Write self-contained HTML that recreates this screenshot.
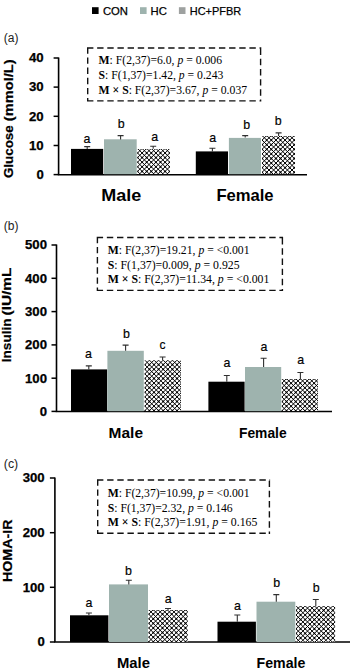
<!DOCTYPE html>
<html lang="en"><head><meta charset="utf-8"><title>Figure</title>
<style>html,body{margin:0;padding:0;background:#fff}svg{display:block}</style></head><body>
<svg width="350" height="669" viewBox="0 0 350 669">
<rect width="350" height="669" fill="#fff"/>
<rect x="92" y="7.2" width="6.6" height="6.8" fill="#000"/>
<text x="102.9" y="14.6" font-size="11.6" font-weight="normal" text-anchor="start" font-family='"Liberation Sans", sans-serif' textLength="25.0" lengthAdjust="spacingAndGlyphs" stroke="#000" stroke-width="0.25">CON</text>
<rect x="140" y="7.2" width="6.6" height="6.8" fill="#9eb3ae"/>
<text x="150.5" y="14.6" font-size="11.6" font-weight="normal" text-anchor="start" font-family='"Liberation Sans", sans-serif' textLength="16.3" lengthAdjust="spacingAndGlyphs" stroke="#000" stroke-width="0.25">HC</text>
<rect x="178.9" y="7.2" width="6.6" height="6.8" fill="#9ea1a0"/>
<text x="189.8" y="14.6" font-size="11.6" font-weight="normal" text-anchor="start" font-family='"Liberation Sans", sans-serif' textLength="51.4" lengthAdjust="spacingAndGlyphs" stroke="#000" stroke-width="0.25">HC+PFBR</text>
<text x="3.8" y="41.9" font-size="12" font-weight="normal" text-anchor="start" font-family='"Liberation Sans", sans-serif' fill="#222">(a)</text>
<path d="M58.6 57.4V174.7H307" stroke="#000" stroke-width="1.6" fill="none"/>
<path d="M53.6 58H58.6" stroke="#000" stroke-width="1.5" fill="none"/>
<text x="43.7" y="62.3" font-size="12.2" font-weight="bold" text-anchor="end" font-family='"Liberation Sans", sans-serif' textLength="14.7" lengthAdjust="spacingAndGlyphs" stroke="#000" stroke-width="0.25">40</text>
<path d="M53.6 87.1H58.6" stroke="#000" stroke-width="1.5" fill="none"/>
<text x="43.7" y="91.4" font-size="12.2" font-weight="bold" text-anchor="end" font-family='"Liberation Sans", sans-serif' textLength="14.7" lengthAdjust="spacingAndGlyphs" stroke="#000" stroke-width="0.25">30</text>
<path d="M53.6 116.3H58.6" stroke="#000" stroke-width="1.5" fill="none"/>
<text x="43.7" y="120.6" font-size="12.2" font-weight="bold" text-anchor="end" font-family='"Liberation Sans", sans-serif' textLength="14.7" lengthAdjust="spacingAndGlyphs" stroke="#000" stroke-width="0.25">20</text>
<path d="M53.6 145.5H58.6" stroke="#000" stroke-width="1.5" fill="none"/>
<text x="43.7" y="149.8" font-size="12.2" font-weight="bold" text-anchor="end" font-family='"Liberation Sans", sans-serif' textLength="14.7" lengthAdjust="spacingAndGlyphs" stroke="#000" stroke-width="0.25">10</text>
<path d="M53.6 174.6H58.6" stroke="#000" stroke-width="1.5" fill="none"/>
<text x="43.7" y="178.9" font-size="12.2" font-weight="bold" text-anchor="end" font-family='"Liberation Sans", sans-serif' textLength="7.3" lengthAdjust="spacingAndGlyphs" stroke="#000" stroke-width="0.25">0</text>
<text transform="translate(13.1,178.1) rotate(-90)" font-size="12.8" font-weight="bold" font-family='"Liberation Sans", sans-serif' textLength="52.8" lengthAdjust="spacingAndGlyphs" stroke="#000" stroke-width="0.2">Glucose</text>
<text transform="translate(13.1,121.2) rotate(-90)" font-size="12.8" font-weight="bold" font-family='"Liberation Sans", sans-serif' textLength="61.8" lengthAdjust="spacingAndGlyphs" stroke="#000" stroke-width="0.2">(mmol/L)</text>
<path d="M87.0 48H261.3M87.7 47.3V101.60000000000001M87.0 100.9H261.3M260.6 48.7V101.60000000000001" fill="none" stroke="#111" stroke-width="1.4" stroke-dasharray="6.4 3.75"/>
<text x="98.6" y="64.0" font-size="12.3" font-family='"Liberation Serif", serif' textLength="123.4" lengthAdjust="spacingAndGlyphs" fill="#000"><tspan font-weight="bold">M</tspan>: F(2,37)=6.0, <tspan font-style="italic">p</tspan> = 0.006</text>
<text x="98.6" y="78.9" font-size="12.3" font-family='"Liberation Serif", serif' textLength="124.8" lengthAdjust="spacingAndGlyphs" fill="#000"><tspan font-weight="bold">S</tspan>: F(1,37)=1.42, <tspan font-style="italic">p</tspan> = 0.243</text>
<text x="98.6" y="93.9" font-size="12.3" font-family='"Liberation Serif", serif' textLength="148.5" lengthAdjust="spacingAndGlyphs" fill="#000"><tspan font-weight="bold">M × S</tspan>: F(2,37)=3.67, <tspan font-style="italic">p</tspan> = 0.037</text>
<rect x="71" y="148.9" width="32.2" height="25.3" fill="#000"/>
<path d="M87.2 149V146.65M84.2 146.65H90.2" stroke="#303030" stroke-width="1.1" fill="none"/>
<text x="83.55" y="142.9" font-size="13.6" font-weight="normal" text-anchor="start" font-family='"Liberation Sans", sans-serif' textLength="6.9" lengthAdjust="spacingAndGlyphs" stroke="#000" stroke-width="0.2">a</text>
<rect x="104" y="139.3" width="32.7" height="34.9" fill="#9eb3ae"/>
<path d="M120.6 139.5V135.65M117.6 135.65H123.6" stroke="#303030" stroke-width="1.1" fill="none"/>
<text x="117.75" y="127.7" font-size="13.6" font-weight="normal" text-anchor="start" font-family='"Liberation Sans", sans-serif' textLength="6.9" lengthAdjust="spacingAndGlyphs" stroke="#000" stroke-width="0.2">b</text>
<clipPath id="c1"><rect x="137.5" y="148.9" width="32.3" height="25.3"/></clipPath><g clip-path="url(#c1)"><rect x="137.5" y="148.9" width="32.3" height="25.3" fill="#fff"/><defs><path id="h1" d="M91.50 143.80l41.40 41.40M96.10 143.80l41.40 41.40M100.70 143.80l41.40 41.40M105.30 143.80l41.40 41.40M109.90 143.80l41.40 41.40M114.50 143.80l41.40 41.40M119.10 143.80l41.40 41.40M123.70 143.80l41.40 41.40M128.30 143.80l41.40 41.40M132.90 143.80l41.40 41.40M137.50 143.80l41.40 41.40M142.10 143.80l41.40 41.40M146.70 143.80l41.40 41.40M151.30 143.80l41.40 41.40M155.90 143.80l41.40 41.40M160.50 143.80l41.40 41.40M165.10 143.80l41.40 41.40M169.70 143.80l41.40 41.40M174.30 143.80l41.40 41.40M178.90 143.80l41.40 41.40M183.50 143.80l41.40 41.40M128.30 143.80l-41.40 41.40M132.90 143.80l-41.40 41.40M137.50 143.80l-41.40 41.40M142.10 143.80l-41.40 41.40M146.70 143.80l-41.40 41.40M151.30 143.80l-41.40 41.40M155.90 143.80l-41.40 41.40M160.50 143.80l-41.40 41.40M165.10 143.80l-41.40 41.40M169.70 143.80l-41.40 41.40M174.30 143.80l-41.40 41.40M178.90 143.80l-41.40 41.40M183.50 143.80l-41.40 41.40M188.10 143.80l-41.40 41.40M192.70 143.80l-41.40 41.40M197.30 143.80l-41.40 41.40M201.90 143.80l-41.40 41.40M206.50 143.80l-41.40 41.40M211.10 143.80l-41.40 41.40M215.70 143.80l-41.40 41.40"/></defs><g fill="none" stroke="#000"><use href="#h1" stroke-width="1.0"/><use href="#h1" stroke-width="1.6" stroke-dasharray="1.6 4.9054" stroke-dashoffset="0.8"/></g></g>
<path d="M153.2 148.8V146.25M150.2 146.25H156.2" stroke="#303030" stroke-width="1.1" fill="none"/>
<text x="151.35" y="140.6" font-size="13.6" font-weight="normal" text-anchor="start" font-family='"Liberation Sans", sans-serif' textLength="6.9" lengthAdjust="spacingAndGlyphs" stroke="#000" stroke-width="0.2">a</text>
<rect x="195.8" y="151.4" width="32.2" height="22.8" fill="#000"/>
<path d="M212.4 151.4V148.25M209.4 148.25H215.4" stroke="#303030" stroke-width="1.1" fill="none"/>
<text x="209.25" y="141.5" font-size="13.6" font-weight="normal" text-anchor="start" font-family='"Liberation Sans", sans-serif' textLength="6.9" lengthAdjust="spacingAndGlyphs" stroke="#000" stroke-width="0.2">a</text>
<rect x="228.9" y="137.9" width="32.1" height="36.3" fill="#9eb3ae"/>
<path d="M245.2 137.6V135.65M242.2 135.65H248.2" stroke="#303030" stroke-width="1.1" fill="none"/>
<text x="243.15" y="128.7" font-size="13.6" font-weight="normal" text-anchor="start" font-family='"Liberation Sans", sans-serif' textLength="6.9" lengthAdjust="spacingAndGlyphs" stroke="#000" stroke-width="0.2">b</text>
<clipPath id="c2"><rect x="262.1" y="136" width="32.9" height="38.2"/></clipPath><g clip-path="url(#c2)"><rect x="262.1" y="136" width="32.9" height="38.2" fill="#fff"/><defs><path id="h2" d="M202.30 130.90l55.20 55.20M206.90 130.90l55.20 55.20M211.50 130.90l55.20 55.20M216.10 130.90l55.20 55.20M220.70 130.90l55.20 55.20M225.30 130.90l55.20 55.20M229.90 130.90l55.20 55.20M234.50 130.90l55.20 55.20M239.10 130.90l55.20 55.20M243.70 130.90l55.20 55.20M248.30 130.90l55.20 55.20M252.90 130.90l55.20 55.20M257.50 130.90l55.20 55.20M262.10 130.90l55.20 55.20M266.70 130.90l55.20 55.20M271.30 130.90l55.20 55.20M275.90 130.90l55.20 55.20M280.50 130.90l55.20 55.20M285.10 130.90l55.20 55.20M289.70 130.90l55.20 55.20M294.30 130.90l55.20 55.20M298.90 130.90l55.20 55.20M303.50 130.90l55.20 55.20M308.10 130.90l55.20 55.20M252.90 130.90l-55.20 55.20M257.50 130.90l-55.20 55.20M262.10 130.90l-55.20 55.20M266.70 130.90l-55.20 55.20M271.30 130.90l-55.20 55.20M275.90 130.90l-55.20 55.20M280.50 130.90l-55.20 55.20M285.10 130.90l-55.20 55.20M289.70 130.90l-55.20 55.20M294.30 130.90l-55.20 55.20M298.90 130.90l-55.20 55.20M303.50 130.90l-55.20 55.20M308.10 130.90l-55.20 55.20M312.70 130.90l-55.20 55.20M317.30 130.90l-55.20 55.20M321.90 130.90l-55.20 55.20M326.50 130.90l-55.20 55.20M331.10 130.90l-55.20 55.20M335.70 130.90l-55.20 55.20M340.30 130.90l-55.20 55.20M344.90 130.90l-55.20 55.20M349.50 130.90l-55.20 55.20M354.10 130.90l-55.20 55.20"/></defs><g fill="none" stroke="#000"><use href="#h2" stroke-width="1.0"/><use href="#h2" stroke-width="1.6" stroke-dasharray="1.6 4.9054" stroke-dashoffset="0.8"/></g></g>
<path d="M278.6 136V132.85M275.6 132.85H281.6" stroke="#303030" stroke-width="1.1" fill="none"/>
<text x="274.65" y="125.2" font-size="13.6" font-weight="normal" text-anchor="start" font-family='"Liberation Sans", sans-serif' textLength="6.9" lengthAdjust="spacingAndGlyphs" stroke="#000" stroke-width="0.2">b</text>
<text x="121.2" y="200.6" font-size="17" font-weight="bold" text-anchor="middle" font-family='"Liberation Sans", sans-serif' textLength="40" lengthAdjust="spacingAndGlyphs">Male</text>
<text x="245" y="201.3" font-size="17" font-weight="bold" text-anchor="middle" font-family='"Liberation Sans", sans-serif' textLength="57.2" lengthAdjust="spacingAndGlyphs">Female</text>
<text x="3.8" y="230.0" font-size="12" font-weight="normal" text-anchor="start" font-family='"Liberation Sans", sans-serif' fill="#222">(b)</text>
<path d="M56.5 244.4V411.5H332" stroke="#000" stroke-width="1.6" fill="none"/>
<path d="M51.5 245H56.5" stroke="#000" stroke-width="1.5" fill="none"/>
<text x="47" y="249.3" font-size="12.2" font-weight="bold" text-anchor="end" font-family='"Liberation Sans", sans-serif' textLength="22.0" lengthAdjust="spacingAndGlyphs" stroke="#000" stroke-width="0.25">500</text>
<path d="M51.5 278.3H56.5" stroke="#000" stroke-width="1.5" fill="none"/>
<text x="47" y="282.6" font-size="12.2" font-weight="bold" text-anchor="end" font-family='"Liberation Sans", sans-serif' textLength="22.0" lengthAdjust="spacingAndGlyphs" stroke="#000" stroke-width="0.25">400</text>
<path d="M51.5 311.6H56.5" stroke="#000" stroke-width="1.5" fill="none"/>
<text x="47" y="315.9" font-size="12.2" font-weight="bold" text-anchor="end" font-family='"Liberation Sans", sans-serif' textLength="22.0" lengthAdjust="spacingAndGlyphs" stroke="#000" stroke-width="0.25">300</text>
<path d="M51.5 344.9H56.5" stroke="#000" stroke-width="1.5" fill="none"/>
<text x="47" y="349.2" font-size="12.2" font-weight="bold" text-anchor="end" font-family='"Liberation Sans", sans-serif' textLength="22.0" lengthAdjust="spacingAndGlyphs" stroke="#000" stroke-width="0.25">200</text>
<path d="M51.5 378.2H56.5" stroke="#000" stroke-width="1.5" fill="none"/>
<text x="47" y="382.5" font-size="12.2" font-weight="bold" text-anchor="end" font-family='"Liberation Sans", sans-serif' textLength="22.0" lengthAdjust="spacingAndGlyphs" stroke="#000" stroke-width="0.25">100</text>
<path d="M51.5 411.4H56.5" stroke="#000" stroke-width="1.5" fill="none"/>
<text x="47" y="415.7" font-size="12.2" font-weight="bold" text-anchor="end" font-family='"Liberation Sans", sans-serif' textLength="7.3" lengthAdjust="spacingAndGlyphs" stroke="#000" stroke-width="0.25">0</text>
<text transform="translate(11.2,362.2) rotate(-90)" font-size="12.8" font-weight="bold" font-family='"Liberation Sans", sans-serif' textLength="43.7" lengthAdjust="spacingAndGlyphs" stroke="#000" stroke-width="0.2">Insulin</text>
<text transform="translate(11.2,315.5) rotate(-90)" font-size="12.8" font-weight="bold" font-family='"Liberation Sans", sans-serif' textLength="47.9" lengthAdjust="spacingAndGlyphs" stroke="#000" stroke-width="0.2">(IU/mL</text>
<path d="M96.7 237.5H283.09999999999997M97.4 236.8V291.09999999999997M96.7 290.4H283.09999999999997M282.4 238.2V291.09999999999997" fill="none" stroke="#111" stroke-width="1.4" stroke-dasharray="6.4 3.75"/>
<text x="107.8" y="254.4" font-size="12.3" font-family='"Liberation Serif", serif' textLength="141.7" lengthAdjust="spacingAndGlyphs" fill="#000"><tspan font-weight="bold">M</tspan>: F(2,37)=19.21, <tspan font-style="italic">p</tspan> = &lt;0.001</text>
<text x="107.8" y="268.8" font-size="12.3" font-family='"Liberation Serif", serif' textLength="131.8" lengthAdjust="spacingAndGlyphs" fill="#000"><tspan font-weight="bold">S</tspan>: F(1,37)=0.009, <tspan font-style="italic">p</tspan> = 0.925</text>
<text x="107.8" y="283.0" font-size="12.3" font-family='"Liberation Serif", serif' textLength="161.6" lengthAdjust="spacingAndGlyphs" fill="#000"><tspan font-weight="bold">M × S</tspan>: F(2,37)=11.34, <tspan font-style="italic">p</tspan> = &lt;0.001</text>
<rect x="71" y="369.4" width="36.2" height="41.8" fill="#000"/>
<path d="M88.8 369.4V365.85M85.8 365.85H91.8" stroke="#303030" stroke-width="1.1" fill="none"/>
<text x="85.05" y="358.1" font-size="13.6" font-weight="normal" text-anchor="start" font-family='"Liberation Sans", sans-serif' textLength="6.9" lengthAdjust="spacingAndGlyphs" stroke="#000" stroke-width="0.2">a</text>
<rect x="107.4" y="350.8" width="36.4" height="60.4" fill="#9eb3ae"/>
<path d="M125.6 350.8V345.15M122.6 345.15H128.6" stroke="#303030" stroke-width="1.1" fill="none"/>
<text x="122.95" y="338.1" font-size="13.6" font-weight="normal" text-anchor="start" font-family='"Liberation Sans", sans-serif' textLength="6.9" lengthAdjust="spacingAndGlyphs" stroke="#000" stroke-width="0.2">b</text>
<clipPath id="c3"><rect x="144.8" y="360.6" width="36.2" height="50.6"/></clipPath><g clip-path="url(#c3)"><rect x="144.8" y="360.6" width="36.2" height="50.6" fill="#fff"/><defs><path id="h3" d="M71.20 355.50l69.00 69.00M75.80 355.50l69.00 69.00M80.40 355.50l69.00 69.00M85.00 355.50l69.00 69.00M89.60 355.50l69.00 69.00M94.20 355.50l69.00 69.00M98.80 355.50l69.00 69.00M103.40 355.50l69.00 69.00M108.00 355.50l69.00 69.00M112.60 355.50l69.00 69.00M117.20 355.50l69.00 69.00M121.80 355.50l69.00 69.00M126.40 355.50l69.00 69.00M131.00 355.50l69.00 69.00M135.60 355.50l69.00 69.00M140.20 355.50l69.00 69.00M144.80 355.50l69.00 69.00M149.40 355.50l69.00 69.00M154.00 355.50l69.00 69.00M158.60 355.50l69.00 69.00M163.20 355.50l69.00 69.00M167.80 355.50l69.00 69.00M172.40 355.50l69.00 69.00M177.00 355.50l69.00 69.00M181.60 355.50l69.00 69.00M186.20 355.50l69.00 69.00M190.80 355.50l69.00 69.00M131.00 355.50l-69.00 69.00M135.60 355.50l-69.00 69.00M140.20 355.50l-69.00 69.00M144.80 355.50l-69.00 69.00M149.40 355.50l-69.00 69.00M154.00 355.50l-69.00 69.00M158.60 355.50l-69.00 69.00M163.20 355.50l-69.00 69.00M167.80 355.50l-69.00 69.00M172.40 355.50l-69.00 69.00M177.00 355.50l-69.00 69.00M181.60 355.50l-69.00 69.00M186.20 355.50l-69.00 69.00M190.80 355.50l-69.00 69.00M195.40 355.50l-69.00 69.00M200.00 355.50l-69.00 69.00M204.60 355.50l-69.00 69.00M209.20 355.50l-69.00 69.00M213.80 355.50l-69.00 69.00M218.40 355.50l-69.00 69.00M223.00 355.50l-69.00 69.00M227.60 355.50l-69.00 69.00M232.20 355.50l-69.00 69.00M236.80 355.50l-69.00 69.00M241.40 355.50l-69.00 69.00M246.00 355.50l-69.00 69.00M250.60 355.50l-69.00 69.00"/></defs><g fill="none" stroke="#000"><use href="#h3" stroke-width="1.0"/><use href="#h3" stroke-width="1.6" stroke-dasharray="1.6 4.9054" stroke-dashoffset="0.8"/></g></g>
<path d="M162.6 360.6V357.05M159.6 357.05H165.6" stroke="#303030" stroke-width="1.1" fill="none"/>
<text x="159.4" y="348.6" font-size="13.6" font-weight="normal" text-anchor="start" font-family='"Liberation Sans", sans-serif' textLength="6.0" lengthAdjust="spacingAndGlyphs" stroke="#000" stroke-width="0.2">c</text>
<rect x="208.4" y="381.7" width="36.2" height="29.5" fill="#000"/>
<path d="M226.8 381.7V375.55M223.8 375.55H229.8" stroke="#303030" stroke-width="1.1" fill="none"/>
<text x="223.55" y="366.9" font-size="13.6" font-weight="normal" text-anchor="start" font-family='"Liberation Sans", sans-serif' textLength="6.9" lengthAdjust="spacingAndGlyphs" stroke="#000" stroke-width="0.2">a</text>
<rect x="245" y="367" width="36.2" height="44.2" fill="#9eb3ae"/>
<path d="M263.6 367V358.25M260.6 358.25H266.6" stroke="#303030" stroke-width="1.1" fill="none"/>
<text x="260.55" y="350.6" font-size="13.6" font-weight="normal" text-anchor="start" font-family='"Liberation Sans", sans-serif' textLength="6.9" lengthAdjust="spacingAndGlyphs" stroke="#000" stroke-width="0.2">a</text>
<clipPath id="c4"><rect x="281.9" y="379.1" width="36.1" height="32.1"/></clipPath><g clip-path="url(#c4)"><rect x="281.9" y="379.1" width="36.1" height="32.1" fill="#fff"/><defs><path id="h4" d="M226.70 374.00l50.60 50.60M231.30 374.00l50.60 50.60M235.90 374.00l50.60 50.60M240.50 374.00l50.60 50.60M245.10 374.00l50.60 50.60M249.70 374.00l50.60 50.60M254.30 374.00l50.60 50.60M258.90 374.00l50.60 50.60M263.50 374.00l50.60 50.60M268.10 374.00l50.60 50.60M272.70 374.00l50.60 50.60M277.30 374.00l50.60 50.60M281.90 374.00l50.60 50.60M286.50 374.00l50.60 50.60M291.10 374.00l50.60 50.60M295.70 374.00l50.60 50.60M300.30 374.00l50.60 50.60M304.90 374.00l50.60 50.60M309.50 374.00l50.60 50.60M314.10 374.00l50.60 50.60M318.70 374.00l50.60 50.60M323.30 374.00l50.60 50.60M327.90 374.00l50.60 50.60M268.10 374.00l-50.60 50.60M272.70 374.00l-50.60 50.60M277.30 374.00l-50.60 50.60M281.90 374.00l-50.60 50.60M286.50 374.00l-50.60 50.60M291.10 374.00l-50.60 50.60M295.70 374.00l-50.60 50.60M300.30 374.00l-50.60 50.60M304.90 374.00l-50.60 50.60M309.50 374.00l-50.60 50.60M314.10 374.00l-50.60 50.60M318.70 374.00l-50.60 50.60M323.30 374.00l-50.60 50.60M327.90 374.00l-50.60 50.60M332.50 374.00l-50.60 50.60M337.10 374.00l-50.60 50.60M341.70 374.00l-50.60 50.60M346.30 374.00l-50.60 50.60M350.90 374.00l-50.60 50.60M355.50 374.00l-50.60 50.60M360.10 374.00l-50.60 50.60M364.70 374.00l-50.60 50.60M369.30 374.00l-50.60 50.60"/></defs><g fill="none" stroke="#000"><use href="#h4" stroke-width="1.0"/><use href="#h4" stroke-width="1.6" stroke-dasharray="1.6 4.9054" stroke-dashoffset="0.8"/></g></g>
<path d="M300.4 379.1V372.45M297.4 372.45H303.4" stroke="#303030" stroke-width="1.1" fill="none"/>
<text x="297.15" y="364" font-size="13.6" font-weight="normal" text-anchor="start" font-family='"Liberation Sans", sans-serif' textLength="6.9" lengthAdjust="spacingAndGlyphs" stroke="#000" stroke-width="0.2">a</text>
<text x="125.8" y="437.8" font-size="15" font-weight="bold" text-anchor="middle" font-family='"Liberation Sans", sans-serif' textLength="34.4" lengthAdjust="spacingAndGlyphs">Male</text>
<text x="262.8" y="437.8" font-size="15" font-weight="bold" text-anchor="middle" font-family='"Liberation Sans", sans-serif' textLength="47.6" lengthAdjust="spacingAndGlyphs">Female</text>
<text x="3.8" y="468.2" font-size="12" font-weight="normal" text-anchor="start" font-family='"Liberation Sans", sans-serif' textLength="14.4" lengthAdjust="spacingAndGlyphs" fill="#222">(c)</text>
<path d="M54.9 477.4V642.0H350" stroke="#000" stroke-width="1.6" fill="none"/>
<path d="M49.9 478H54.9" stroke="#000" stroke-width="1.5" fill="none"/>
<text x="44.7" y="482.3" font-size="12.2" font-weight="bold" text-anchor="end" font-family='"Liberation Sans", sans-serif' textLength="22.0" lengthAdjust="spacingAndGlyphs" stroke="#000" stroke-width="0.25">300</text>
<path d="M49.9 532.7H54.9" stroke="#000" stroke-width="1.5" fill="none"/>
<text x="44.7" y="537.0" font-size="12.2" font-weight="bold" text-anchor="end" font-family='"Liberation Sans", sans-serif' textLength="22.0" lengthAdjust="spacingAndGlyphs" stroke="#000" stroke-width="0.25">200</text>
<path d="M49.9 587.3H54.9" stroke="#000" stroke-width="1.5" fill="none"/>
<text x="44.7" y="591.6" font-size="12.2" font-weight="bold" text-anchor="end" font-family='"Liberation Sans", sans-serif' textLength="22.0" lengthAdjust="spacingAndGlyphs" stroke="#000" stroke-width="0.25">100</text>
<path d="M49.9 642H54.9" stroke="#000" stroke-width="1.5" fill="none"/>
<text x="44.7" y="646.3" font-size="12.2" font-weight="bold" text-anchor="end" font-family='"Liberation Sans", sans-serif' textLength="7.3" lengthAdjust="spacingAndGlyphs" stroke="#000" stroke-width="0.25">0</text>
<text transform="translate(11.5,582) rotate(-90)" font-size="13" font-weight="bold" font-family='"Liberation Sans", sans-serif' textLength="62.4" lengthAdjust="spacingAndGlyphs" stroke="#000" stroke-width="0.2">HOMA-IR</text>
<path d="M97.0 480H270.09999999999997M97.7 479.3V533.9000000000001M97.0 533.2H270.09999999999997M269.4 480.7V533.9000000000001" fill="none" stroke="#111" stroke-width="1.4" stroke-dasharray="6.4 3.75"/>
<text x="107.7" y="496.8" font-size="12.3" font-family='"Liberation Serif", serif' textLength="141.8" lengthAdjust="spacingAndGlyphs" fill="#000"><tspan font-weight="bold">M</tspan>: F(2,37)=10.99, <tspan font-style="italic">p</tspan> = &lt;0.001</text>
<text x="107.7" y="511.6" font-size="12.3" font-family='"Liberation Serif", serif' textLength="125.0" lengthAdjust="spacingAndGlyphs" fill="#000"><tspan font-weight="bold">S</tspan>: F(1,37)=2.32, <tspan font-style="italic">p</tspan> = 0.146</text>
<text x="107.7" y="526.1" font-size="12.3" font-family='"Liberation Serif", serif' textLength="149.7" lengthAdjust="spacingAndGlyphs" fill="#000"><tspan font-weight="bold">M × S</tspan>: F(2,37)=1.91, <tspan font-style="italic">p</tspan> = 0.165</text>
<rect x="70" y="615.3" width="38.4" height="26.7" fill="#000"/>
<path d="M88.9 615.3V612.95M85.9 612.95H91.9" stroke="#303030" stroke-width="1.1" fill="none"/>
<text x="85.55" y="606.8" font-size="13.6" font-weight="normal" text-anchor="start" font-family='"Liberation Sans", sans-serif' textLength="6.9" lengthAdjust="spacingAndGlyphs" stroke="#000" stroke-width="0.2">a</text>
<rect x="109" y="584.4" width="39" height="57.6" fill="#9eb3ae"/>
<path d="M128.8 584.4V580.25M125.80000000000001 580.25H131.8" stroke="#303030" stroke-width="1.1" fill="none"/>
<text x="125.05" y="574.8" font-size="13.6" font-weight="normal" text-anchor="start" font-family='"Liberation Sans", sans-serif' textLength="6.9" lengthAdjust="spacingAndGlyphs" stroke="#000" stroke-width="0.2">b</text>
<clipPath id="c5"><rect x="148.7" y="610.1" width="39.0" height="31.9"/></clipPath><g clip-path="url(#c5)"><rect x="148.7" y="610.1" width="39.0" height="31.9" fill="#fff"/><defs><path id="h5" d="M93.50 605.00l50.60 50.60M98.10 605.00l50.60 50.60M102.70 605.00l50.60 50.60M107.30 605.00l50.60 50.60M111.90 605.00l50.60 50.60M116.50 605.00l50.60 50.60M121.10 605.00l50.60 50.60M125.70 605.00l50.60 50.60M130.30 605.00l50.60 50.60M134.90 605.00l50.60 50.60M139.50 605.00l50.60 50.60M144.10 605.00l50.60 50.60M148.70 605.00l50.60 50.60M153.30 605.00l50.60 50.60M157.90 605.00l50.60 50.60M162.50 605.00l50.60 50.60M167.10 605.00l50.60 50.60M171.70 605.00l50.60 50.60M176.30 605.00l50.60 50.60M180.90 605.00l50.60 50.60M185.50 605.00l50.60 50.60M190.10 605.00l50.60 50.60M194.70 605.00l50.60 50.60M199.30 605.00l50.60 50.60M134.90 605.00l-50.60 50.60M139.50 605.00l-50.60 50.60M144.10 605.00l-50.60 50.60M148.70 605.00l-50.60 50.60M153.30 605.00l-50.60 50.60M157.90 605.00l-50.60 50.60M162.50 605.00l-50.60 50.60M167.10 605.00l-50.60 50.60M171.70 605.00l-50.60 50.60M176.30 605.00l-50.60 50.60M180.90 605.00l-50.60 50.60M185.50 605.00l-50.60 50.60M190.10 605.00l-50.60 50.60M194.70 605.00l-50.60 50.60M199.30 605.00l-50.60 50.60M203.90 605.00l-50.60 50.60M208.50 605.00l-50.60 50.60M213.10 605.00l-50.60 50.60M217.70 605.00l-50.60 50.60M222.30 605.00l-50.60 50.60M226.90 605.00l-50.60 50.60M231.50 605.00l-50.60 50.60M236.10 605.00l-50.60 50.60M240.70 605.00l-50.60 50.60"/></defs><g fill="none" stroke="#000"><use href="#h5" stroke-width="1.0"/><use href="#h5" stroke-width="1.6" stroke-dasharray="1.6 4.9054" stroke-dashoffset="0.8"/></g></g>
<path d="M168 610.1V608.55M165.0 608.55H171.0" stroke="#303030" stroke-width="1.1" fill="none"/>
<text x="164.85" y="602.8" font-size="13.6" font-weight="normal" text-anchor="start" font-family='"Liberation Sans", sans-serif' textLength="6.9" lengthAdjust="spacingAndGlyphs" stroke="#000" stroke-width="0.2">a</text>
<rect x="217.5" y="621.7" width="38.4" height="20.3" fill="#000"/>
<path d="M237.3 621.7V615.05M234.3 615.05H240.3" stroke="#303030" stroke-width="1.1" fill="none"/>
<text x="234.05" y="609.9" font-size="13.6" font-weight="normal" text-anchor="start" font-family='"Liberation Sans", sans-serif' textLength="6.9" lengthAdjust="spacingAndGlyphs" stroke="#000" stroke-width="0.2">a</text>
<rect x="256.5" y="601.7" width="38.8" height="40.3" fill="#9eb3ae"/>
<path d="M276.3 601.7V594.65M273.3 594.65H279.3" stroke="#303030" stroke-width="1.1" fill="none"/>
<text x="273.15" y="587.2" font-size="13.6" font-weight="normal" text-anchor="start" font-family='"Liberation Sans", sans-serif' textLength="6.9" lengthAdjust="spacingAndGlyphs" stroke="#000" stroke-width="0.2">b</text>
<clipPath id="c6"><rect x="296" y="606.3" width="39.1" height="35.7"/></clipPath><g clip-path="url(#c6)"><rect x="296" y="606.3" width="39.1" height="35.7" fill="#fff"/><defs><path id="h6" d="M240.80 601.20l50.60 50.60M245.40 601.20l50.60 50.60M250.00 601.20l50.60 50.60M254.60 601.20l50.60 50.60M259.20 601.20l50.60 50.60M263.80 601.20l50.60 50.60M268.40 601.20l50.60 50.60M273.00 601.20l50.60 50.60M277.60 601.20l50.60 50.60M282.20 601.20l50.60 50.60M286.80 601.20l50.60 50.60M291.40 601.20l50.60 50.60M296.00 601.20l50.60 50.60M300.60 601.20l50.60 50.60M305.20 601.20l50.60 50.60M309.80 601.20l50.60 50.60M314.40 601.20l50.60 50.60M319.00 601.20l50.60 50.60M323.60 601.20l50.60 50.60M328.20 601.20l50.60 50.60M332.80 601.20l50.60 50.60M337.40 601.20l50.60 50.60M342.00 601.20l50.60 50.60M346.60 601.20l50.60 50.60M282.20 601.20l-50.60 50.60M286.80 601.20l-50.60 50.60M291.40 601.20l-50.60 50.60M296.00 601.20l-50.60 50.60M300.60 601.20l-50.60 50.60M305.20 601.20l-50.60 50.60M309.80 601.20l-50.60 50.60M314.40 601.20l-50.60 50.60M319.00 601.20l-50.60 50.60M323.60 601.20l-50.60 50.60M328.20 601.20l-50.60 50.60M332.80 601.20l-50.60 50.60M337.40 601.20l-50.60 50.60M342.00 601.20l-50.60 50.60M346.60 601.20l-50.60 50.60M351.20 601.20l-50.60 50.60M355.80 601.20l-50.60 50.60M360.40 601.20l-50.60 50.60M365.00 601.20l-50.60 50.60M369.60 601.20l-50.60 50.60M374.20 601.20l-50.60 50.60M378.80 601.20l-50.60 50.60M383.40 601.20l-50.60 50.60M388.00 601.20l-50.60 50.60M392.60 601.20l-50.60 50.60"/></defs><g fill="none" stroke="#000"><use href="#h6" stroke-width="1.0"/><use href="#h6" stroke-width="1.6" stroke-dasharray="1.6 4.9054" stroke-dashoffset="0.8"/></g></g>
<path d="M315.8 606.3V599.55M312.8 599.55H318.8" stroke="#303030" stroke-width="1.1" fill="none"/>
<text x="312.85" y="591.7" font-size="13.6" font-weight="normal" text-anchor="start" font-family='"Liberation Sans", sans-serif' textLength="6.9" lengthAdjust="spacingAndGlyphs" stroke="#000" stroke-width="0.2">b</text>
<text x="133.5" y="667.6" font-size="15" font-weight="bold" text-anchor="middle" font-family='"Liberation Sans", sans-serif' textLength="33" lengthAdjust="spacingAndGlyphs">Male</text>
<text x="281" y="667.6" font-size="15" font-weight="bold" text-anchor="middle" font-family='"Liberation Sans", sans-serif' textLength="48.8" lengthAdjust="spacingAndGlyphs">Female</text>
</svg></body></html>
